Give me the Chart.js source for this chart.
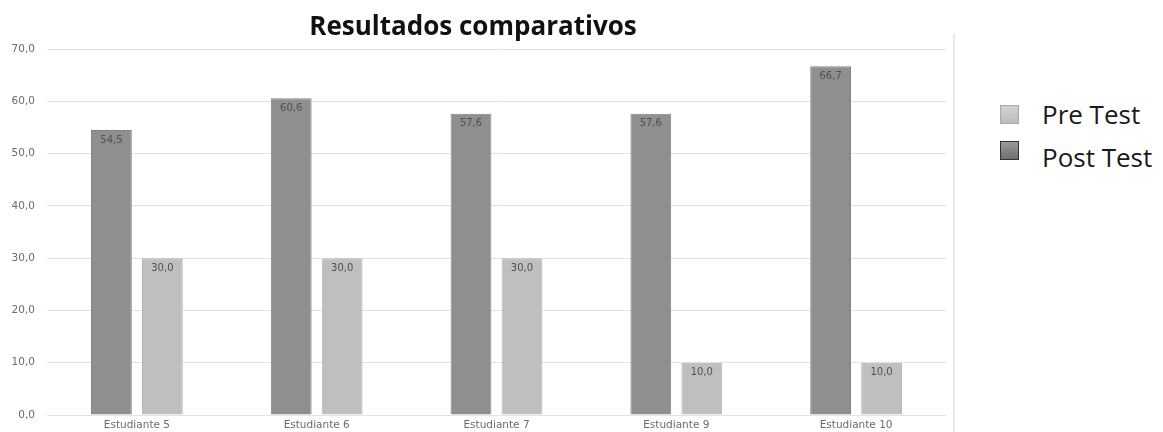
<!DOCTYPE html>
<html>
<head>
<meta charset="utf-8">
<script src="https://cdn.jsdelivr.net/npm/chart.js@4"></script>
<style>
  body { margin: 0; background: #fff; overflow: hidden; }
  #wrap { position: relative; width: 1163px; height: 432px; }
  #chart { position: absolute; left: 0; top: 0; }
  #sep { position: absolute; left: 953px; top: 34px; width: 0; height: 398px; border-left: 2px solid #e8e8e8; }
  #legend { position: absolute; left: 1000px; top: 96px; font-family: "Open Sans", sans-serif; font-size: 26px; color: #1a1a1a; }
  .item { position: relative; height: 43px; line-height: 36px; padding-left: 42px; }
  .box { position: absolute; left: 0; width: 19px; height: 19px; box-sizing: border-box; }
</style>
</head>
<body>
<div id="wrap">
  <canvas id="chart" width="950" height="432"></canvas>
  <div id="sep"></div>
  <div id="legend"></div>
</div>
<script>
const categories = ["Estudiante 5", "Estudiante 6", "Estudiante 7", "Estudiante 9", "Estudiante 10"];
const postTest = [54.5, 60.6, 57.6, 57.6, 66.7];
const preTest = [30.0, 30.0, 30.0, 10.0, 10.0];
const yTicks = [0, 10, 20, 30, 40, 50, 60, 70];

const fmt = v => v.toFixed(1).replace(".", ",");

// labels inside the top of each bar
const barLabels = {
  id: "barLabels",
  afterDatasetsDraw(chart) {
    const ctx = chart.ctx;
    ctx.save();
    ctx.font = "10px 'DejaVu Sans', sans-serif";
    ctx.fillStyle = "#505050";
    ctx.textAlign = "center";
    ctx.textBaseline = "middle";
    chart.data.datasets.forEach((ds, i) => {
      chart.getDatasetMeta(i).data.forEach((bar, j) => {
        ctx.fillText(fmt(ds.data[j]), bar.x, bar.y + 10);
      });
    });
    ctx.restore();
  }
};

new Chart(document.getElementById("chart"), {
  type: "bar",
  data: {
    labels: categories,
    datasets: [
      {
        label: "Post Test",
        data: postTest,
        backgroundColor: "#8f8f8f",
        borderColor: "#818181",
        borderWidth: 1,
        categoryPercentage: 0.567,
        barPercentage: 0.8
      },
      {
        label: "Pre Test",
        data: preTest,
        backgroundColor: "#bfbfbf",
        borderColor: "#b3b3b3",
        borderWidth: 1,
        categoryPercentage: 0.567,
        barPercentage: 0.8
      }
    ]
  },
  options: {
    responsive: false,
    animation: false,
    layout: { padding: { left: 0, right: 4, top: 0, bottom: 0 } },
    plugins: {
      legend: { display: false },
      tooltip: { enabled: false },
      title: {
        display: true,
        text: "Resultados comparativos",
        color: "#111",
        font: { family: "'Open Sans'", size: 26, weight: "bold" },
        padding: { top: 12, bottom: 5.8 }
      }
    },
    scales: {
      x: {
        afterFit(axis) { axis.height = 17; },
        grid: { display: false, drawTicks: false },
        border: { display: false },
        ticks: {
          color: "#6a6a6a",
          font: { family: "'DejaVu Sans', sans-serif", size: 10.5 },
          padding: 4
        }
      },
      y: {
        min: 0,
        max: 70,
        afterFit(axis) { axis.width = 47; },
        afterBuildTicks(axis) { axis.ticks = yTicks.map(v => ({ value: v })); },
        // invisible tick marks give the gap between labels and plot
        grid: { color: "#e3e3e3", lineWidth: 1, drawTicks: true, tickLength: 12, tickColor: "rgba(0,0,0,0)" },
        border: { display: false },
        ticks: {
          color: "#6a6a6a",
          font: { family: "'DejaVu Sans', sans-serif", size: 10.5 },
          padding: 0,
          callback: v => fmt(v)
        }
      }
    }
  },
  plugins: [barLabels]
});

// legend on the right, Pre Test first
const legendItems = [
  { label: "Pre Test", fill: "linear-gradient(#d2d2d2, #bdbdbd)", border: "#a8a8a8", boxTop: 9 },
  { label: "Post Test", fill: "linear-gradient(#9a9a9a, #6e6e6e)", border: "#333", boxTop: 2 }
];
const legendEl = document.getElementById("legend");
legendItems.forEach(it => {
  const row = document.createElement("div");
  row.className = "item";
  const box = document.createElement("span");
  box.className = "box";
  box.style.top = it.boxTop + "px";
  box.style.background = it.fill;
  box.style.border = "1px solid " + it.border;
  row.appendChild(box);
  row.appendChild(document.createTextNode(it.label));
  legendEl.appendChild(row);
});
</script>
</body>
</html>
